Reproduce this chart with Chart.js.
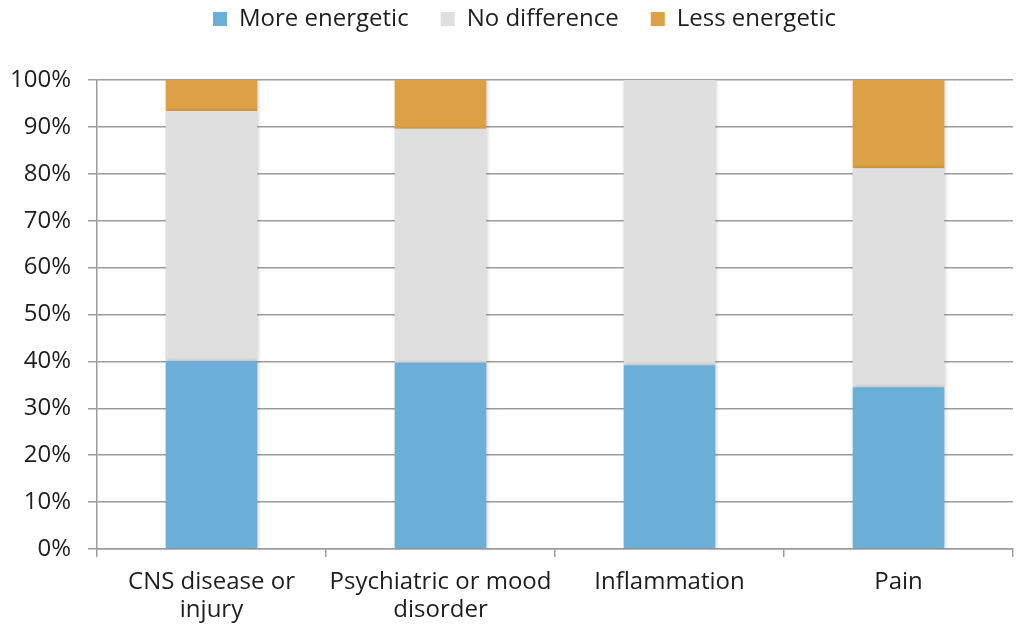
<!DOCTYPE html>
<html>
<head>
<meta charset="utf-8">
<script src="https://cdn.jsdelivr.net/npm/chart.js@4.4.1/dist/chart.umd.min.js"></script>
<style>
  html, body { margin: 0; padding: 0; background: #ffffff; }
  #grafico { display: block; }
</style>
</head>
<body>
<canvas id="grafico" width="1021" height="628"></canvas>
<script>
// datos (porcentaje)
const categorias = [
  ["CNS disease or", "injury"],
  ["Psychiatric or mood", "disorder"],
  "Inflammation",
  "Pain",
];
const masEnergetico = [40.1, 39.7, 39.2, 34.5];
const sinDiferencia = [53.3, 49.9, 60.8, 46.7];
const menosEnergetico = [6.6, 10.4, 0, 18.8];

const colores = {
  mas: "#6BAFD9",
  igual: "#DFDFDF",
  menos: "#DDA145",
  grid: "#9c9c9c",
  texto: "#1e1e1e",
};

Chart.defaults.font.family = "'Open Sans', 'Noto Sans', sans-serif";
Chart.defaults.font.size = 24;
Chart.defaults.color = colores.texto;

// sombra suave detras de las barras
const sombraBarras = {
  id: "sombraBarras",
  beforeDatasetsDraw(chart) {
    const ctx = chart.ctx;
    ctx.save();
    ctx.shadowColor = "rgba(0,0,0,0.22)";
    ctx.shadowBlur = 4;
    ctx.shadowOffsetX = 1;
    ctx.shadowOffsetY = 0;
  },
  afterDatasetsDraw(chart) {
    chart.ctx.restore();
  },
};

// leyenda: altura fija y un poco desplazada a la derecha
const ajusteLeyenda = {
  id: "ajusteLeyenda",
  beforeInit(chart) {
    const fitOriginal = chart.legend.fit;
    chart.legend.fit = function () {
      fitOriginal.call(this);
      this.height = 105;
    };
  },
  afterLayout(chart) {
    chart.legend.left += 18;
    chart.legend.right += 18;
  },
};

new Chart(document.getElementById("grafico"), {
  type: "bar",
  data: {
    labels: categorias,
    datasets: [
      { label: "More energetic", data: masEnergetico, backgroundColor: colores.mas },
      { label: "No difference", data: sinDiferencia, backgroundColor: colores.igual },
      { label: "Less energetic", data: menosEnergetico, backgroundColor: colores.menos },
    ],
  },
  plugins: [sombraBarras, ajusteLeyenda],
  options: {
    responsive: false,
    animation: false,
    categoryPercentage: 1,
    barPercentage: 0.4,
    layout: {
      padding: { top: -25, left: 0, right: 8, bottom: 0 },
    },
    plugins: {
      legend: {
        position: "top",
        labels: {
          boxWidth: 14,
          boxHeight: 14,
          padding: 32,
          color: colores.texto,
        },
      },
      tooltip: { enabled: false },
    },
    scales: {
      x: {
        stacked: true,
        grid: {
          display: true,
          drawOnChartArea: false,
          drawTicks: true,
          tickLength: 8,
          color: colores.grid,
          lineWidth: 1.5,
        },
        border: { display: true, color: colores.grid, width: 1.5 },
        ticks: {
          padding: 12,
          maxRotation: 0,
          autoSkip: false,
          font: { lineHeight: 1.13 },
        },
        afterFit: function (scale) {
          scale.height = 79;
        },
      },
      y: {
        stacked: true,
        min: 0,
        max: 100,
        grid: {
          color: colores.grid,
          lineWidth: 1.5,
          tickLength: 9,
        },
        border: { display: true, color: colores.grid, width: 1.5 },
        ticks: {
          stepSize: 10,
          padding: 17,
          callback: function (value) {
            return value + "%";
          },
        },
        afterFit: function (scale) {
          scale.width = 97;
        },
      },
    },
  },
});
</script>
</body>
</html>
